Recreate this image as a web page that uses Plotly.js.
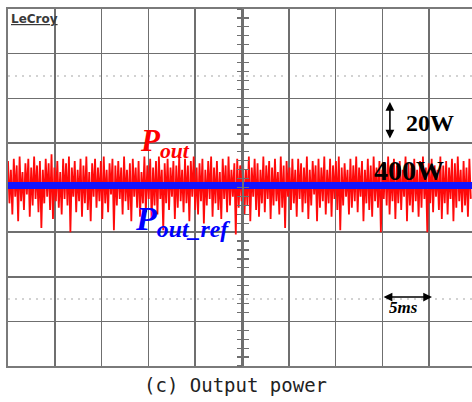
<!DOCTYPE html>
<html>
<head>
<meta charset="utf-8">
<script src="https://cdn.plot.ly/plotly-3.0.1.min.js"></script>
<style>
  html, body { margin: 0; padding: 0; background: #fff; overflow: hidden; }
  #plot { width: 472px; height: 402px; }
</style>
</head>
<body>
<div id="plot"></div>
<script>
// Scope capture: 5 ms/div, 20 W/div, sampled output power and its reference.
const sampleStepMs = 0.155;

// Measured output power Pout (W)
const pOut = [
  411,392,407,387,412,395,409,384,413,393,406,389,410,396,412,386,408,391,413,394,
  409,388,411,381,407,392,412,395,410,389,414,385,408,393,411,390,406,387,412,394,
  410,391,413,379,408,395,411,388,407,393,412,386,409,392,413,389,406,384,410,395,
  412,390,408,393,411,385,413,392,407,388,410,396,412,380,409,391,411,394,408,387,
  413,393,407,389,410,384,412,395,408,390,411,386,406,392,413,388,409,394,412,385,
  408,391,411,387,413,394,407,380,410,392,412,389,408,395,411,385,409,390,413,393,
  407,388,412,392,409,384,411,395,413,389,408,387,410,393,412,383,407,391,411,394,
  413,386,408,392,411,389,406,385,412,394,409,388,413,391,407,395,410,378,412,390,
  409,393,411,387,407,391,413,384,408,395,412,389,410,386,407,392,413,388,409,394,
  411,385,408,391,412,393,406,387,413,390,409,381,411,395,408,389,412,392,407,386,
  412,394,410,388,408,392,413,385,407,391,411,396,409,384,412,390,408,393,413,387,
  407,392,412,386,409,394,411,389,413,380,408,391,410,395,407,387,412,390,409,393,
  413,388,408,395,411,384,407,392,412,389,409,386,413,393,408,390,411,379,407,394,
  410,391,413,387,408,393,412,385,409,392,411,389,407,395,413,384,410,391,408,388,
  412,393,407,386,411,390,413,394,408,379,410,392,412,388,409,395,407,389,413,385,
  409,392,411,387,408,394,412,384,410,390,413,393,407,388,411,391,408,386,412,394
];

// Power reference Pout_ref (W)
const pRefTime = [0, 49.6];
const pRef = [400, 400];

// Scope scales
const timeRange = [0, 49.57];   // ms shown across the screen
const msPerDiv = 5;
const powerRange = [319.1, 479.1]; // W, 8 divisions
const wPerDiv = 20;

const gridColor = '#6f6f6f';

const traces = [
  {
    type: 'scatter', mode: 'lines',
    y: pOut, x0: 0, dx: sampleStepMs,
    line: { color: '#ff0a0a', width: 1.8 },
    hoverinfo: 'skip', showlegend: false
  },
  {
    type: 'scatter', mode: 'lines',
    x: pRefTime, y: pRef,
    line: { color: '#1414ff', width: 7 },
    hoverinfo: 'skip', showlegend: false
  },
  // empty traces so the centre graticule axes are laid out
  { type: 'scatter', mode: 'lines', x: [], y: [], yaxis: 'y2', showlegend: false, hoverinfo: 'skip' },
  { type: 'scatter', mode: 'lines', x: [], y: [], yaxis: 'y3', showlegend: false, hoverinfo: 'skip' }
];

const centerAxis = (ticks) => ({
  overlaying: 'y', anchor: 'free', position: (242 - 8) / 464,
  range: powerRange, tick0: powerRange[0], dtick: wPerDiv / 5,
  ticks: ticks, ticklen: 5, tickwidth: 1.2, tickcolor: gridColor,
  showline: true, linecolor: gridColor, linewidth: 1.5,
  showgrid: false, zeroline: false, showticklabels: false, fixedrange: true
});

const serif = 'Liberation Serif, Times New Roman, serif';

const layout = {
  width: 472, height: 402,
  margin: { l: 8, r: 0, t: 9, b: 36 },
  paper_bgcolor: '#ffffff', plot_bgcolor: '#ffffff',
  xaxis: {
    range: timeRange, tick0: 0, dtick: msPerDiv,
    showgrid: true, gridcolor: gridColor, gridwidth: 1.5,
    showline: true, mirror: true, linecolor: '#7a7a7a', linewidth: 2,
    zeroline: false, showticklabels: false, ticks: '', fixedrange: true
  },
  yaxis: {
    range: powerRange, tick0: powerRange[0], dtick: wPerDiv,
    showgrid: true, gridcolor: gridColor, gridwidth: 1.5,
    showline: true, mirror: false, linecolor: '#7a7a7a', linewidth: 2,
    zeroline: false, showticklabels: false, ticks: '', fixedrange: true
  },
  yaxis2: centerAxis('outside'),
  yaxis3: centerAxis('inside'),
  shapes: [
    { type: 'line', xref: 'paper', x0: 0, x1: 1, yref: 'y', y0: powerRange[0] + 6.5 * wPerDiv, y1: powerRange[0] + 6.5 * wPerDiv,
      line: { color: '#c4c4c4', width: 1.5, dash: '2px,5px' }, layer: 'below' },
    { type: 'line', xref: 'paper', x0: 0, x1: 1, yref: 'y', y0: powerRange[0] + 1.5 * wPerDiv, y1: powerRange[0] + 1.5 * wPerDiv,
      line: { color: '#c4c4c4', width: 1.5, dash: '2px,5px' }, layer: 'below' }
  ],
  annotations: [
    { xref: 'paper', yref: 'paper', x: 0.003, y: 0.998, xanchor: 'left', yanchor: 'top',
      text: '<b><span style="text-decoration:underline">LeCroy</span></b>', showarrow: false,
      font: { family: 'DejaVu Sans, sans-serif', size: 12, color: '#3a3a3a' } },
    { xref: 'x', yref: 'y', x: 16.8, y: 419.0, showarrow: false,
      text: '<b><i>P<sub>out</sub></i></b>',
      font: { family: serif, size: 31, color: '#ff0000' } },
    { xref: 'x', yref: 'y', x: 18.6, y: 384.1, showarrow: false,
      text: '<b><i>P<sub>out_ref</sub></i></b>',
      font: { family: serif, size: 34, color: '#0000ff' } },
    { xref: 'x', yref: 'y', x: 45.1, y: 428.0, showarrow: false,
      text: '<b>20W</b>', font: { family: serif, size: 24, color: '#000000' } },
    { xref: 'x', yref: 'y', x: 42.8, y: 406.5, showarrow: false,
      text: '<b>400W</b>', font: { family: serif, size: 28, color: '#000000' } },
    { xref: 'x', yref: 'y', x: 42.2, y: 345.4, showarrow: false,
      text: '<b><i>5ms</i></b>', font: { family: serif, size: 17, color: '#000000' } },
    // 20 W/div scale arrow
    { xref: 'x', yref: 'y', axref: 'x', ayref: 'y',
      x: 40.8, y: 437.4, ax: 40.8, ay: 420.4, text: '',
      showarrow: true, arrowhead: 2, arrowside: 'end+start', arrowsize: 1.1, arrowwidth: 1.6, arrowcolor: '#000000' },
    // 5 ms/div scale arrow
    { xref: 'x', yref: 'y', axref: 'x', ayref: 'y',
      x: 45.3, y: 350.0, ax: 39.96, ay: 350.0, text: '',
      showarrow: true, arrowhead: 2, arrowside: 'end+start', arrowsize: 1.1, arrowwidth: 1.6, arrowcolor: '#000000' },
    { xref: 'paper', yref: 'paper', x: (235 - 8) / 464, y: -0.054, xanchor: 'center', yanchor: 'middle',
      text: '(c) Output power', showarrow: false,
      font: { family: 'DejaVu Sans Mono, monospace', size: 19, color: '#222222' } }
  ]
};

Plotly.newPlot('plot', traces, layout, { displayModeBar: false, staticPlot: true });
</script>
</body>
</html>
